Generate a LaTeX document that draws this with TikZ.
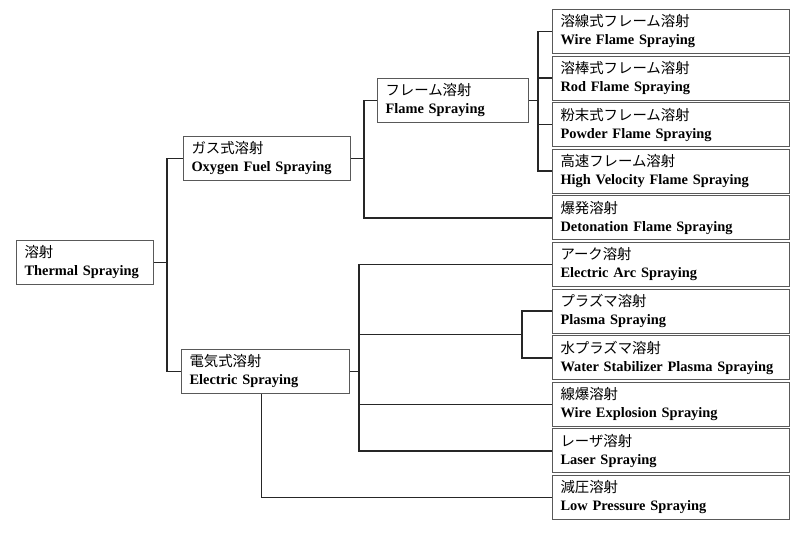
\documentclass[tikz,border=0pt]{standalone}
\usepackage{fontspec}
\setmainfont{Liberation Serif}
\newfontfamily\jp{Noto Sans CJK JP}
\usetikzlibrary{calc}
\tikzset{
  box/.style={draw=black!65, line width=1pt, anchor=north west, minimum height=44pt,
    inner xsep=8pt, inner ysep=0pt, align=left,
    font=\fontsize{14.4}{18}\selectfont},
  link/.style={draw=black!85, line width=1.6pt}
}
\newcommand{\lbl}[2]{{\jp #1}\\\textbf{#2}}
\begin{document}
\begin{tikzpicture}[x=1pt, y=-1pt]
  \useasboundingbox (0,0) rectangle (800,537);
  \begin{scope}[every node/.style={box}]
    \node[text width=121pt] (root) at (16,240) {\lbl{溶射}{Thermal Spraying}};
    \node[text width=151pt] (gas) at (183,136) {\lbl{ガス式溶射}{Oxygen Fuel Spraying}};
    \node[text width=152pt] (elec) at (181,349) {\lbl{電気式溶射}{Electric Spraying}};
    \node[text width=135pt] (flame) at (377,78) {\lbl{フレーム溶射}{Flame Spraying}};
    \node[text width=221pt] (wire) at (552,9) {\lbl{溶線式フレーム溶射}{Wire Flame Spraying}};
    \node[text width=221pt] (rod) at (552,55.6) {\lbl{溶棒式フレーム溶射}{Rod Flame Spraying}};
    \node[text width=221pt] (powder) at (552,102.2) {\lbl{粉末式フレーム溶射}{Powder Flame Spraying}};
    \node[text width=221pt] (hvof) at (552,148.8) {\lbl{高速フレーム溶射}{High Velocity Flame Spraying}};
    \node[text width=221pt] (deto) at (552,195.4) {\lbl{爆発溶射}{Detonation Flame Spraying}};
    \node[text width=221pt] (arc) at (552,242) {\lbl{アーク溶射}{Electric Arc Spraying}};
    \node[text width=221pt] (plasma) at (552,288.6) {\lbl{プラズマ溶射}{Plasma Spraying}};
    \node[text width=221pt] (water) at (552,335.2) {\lbl{水プラズマ溶射}{Water Stabilizer Plasma Spraying}};
    \node[text width=221pt] (wexp) at (552,381.8) {\lbl{線爆溶射}{Wire Explosion Spraying}};
    \node[text width=221pt] (laser) at (552,428.4) {\lbl{レーザ溶射}{Laser Spraying}};
    \node[text width=221pt] (lowp) at (552,475) {\lbl{減圧溶射}{Low Pressure Spraying}};
  \end{scope}
  \coordinate (pj) at ($(plasma.west)!0.5!(water.west)+(-30,0)$);
  \begin{scope}[every path/.style={link}]
    % thermal spraying
    \path (root.east) -- ++(13,0) |- (gas.west);
    \path (root.east) -- ++(13,0) |- (elec.west);
    % oxygen fuel
    \path (gas.east) -- ++(13,0) |- (flame.west);
    \path (gas.east) -- ++(13,0) |- (deto.west);
    % flame
    \path (flame.east) -- ++(9,0) |- (wire.west);
    \path (flame.east) -- ++(9,0) |- (rod.west);
    \path (flame.east) -- ++(9,0) |- (powder.west);
    \path (flame.east) -- ++(9,0) |- (hvof.west);
    % electric
    \path (elec.east) -- ++(9,0) |- (arc.west);
    \path (elec.east) -- ++(9,0) |- (pj);
    \path (elec.east) -- ++(9,0) |- (wexp.west);
    \path (elec.east) -- ++(9,0) |- (laser.west);
    \path (pj) |- (plasma.west);
    \path (pj) |- (water.west);
    \path ([xshift=-4pt]elec.south) |- (lowp.west);
  \end{scope}
\end{tikzpicture}
\end{document}
